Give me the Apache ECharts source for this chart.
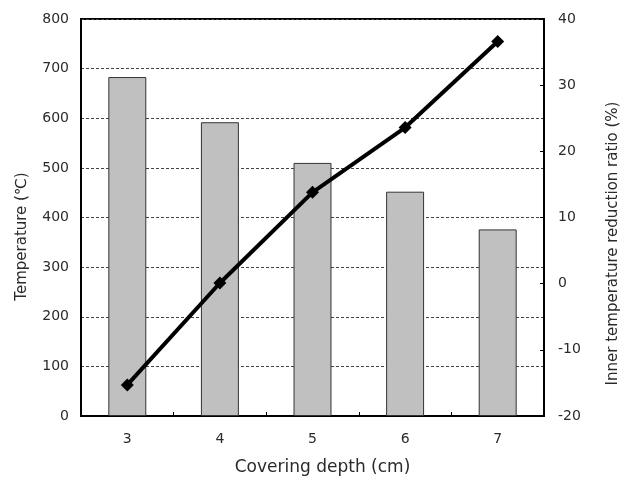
<!DOCTYPE html>
<html>
<head>
<meta charset="utf-8">
<script src="https://cdn.jsdelivr.net/npm/echarts@6/dist/echarts.min.js"></script>
<style>
  html, body { margin: 0; padding: 0; background: #fff; }
  #chart { width: 629px; height: 481px; }
</style>
</head>
<body>
<div id="chart"></div>
<script>
// Covering depth vs. surface temperature and inner temperature reduction ratio
const depths = ['3', '4', '5', '6', '7'];
const temperature = [683, 592, 510, 452, 376];
const reductionRatio = [-15.3, 0.1, 13.8, 23.6, 36.6];

const FONT = '"DejaVu Sans", sans-serif';
const TEXT = '#2a2a2a';

const chart = echarts.init(document.getElementById('chart'), null, { renderer: 'canvas' });

chart.setOption({
  animation: false,
  backgroundColor: '#fff',
  textStyle: { fontFamily: FONT, color: TEXT },
  grid: {
    left: 81, right: 81, top: 19, bottom: 59,
    show: true, borderColor: '#000', borderWidth: 2, backgroundColor: 'transparent'
  },
  xAxis: {
    type: 'category',
    data: depths,
    name: 'Covering depth (cm)',
    nameLocation: 'middle',
    nameGap: 43,
    nameTextStyle: { fontFamily: FONT, fontSize: 17, color: TEXT, padding: [0, 0, 0, 20] },
    axisLine: { show: true, lineStyle: { color: '#000', width: 2 } },
    axisTick: { show: true, inside: true, length: 4, alignWithLabel: false, lineStyle: { color: '#000' } },
    axisLabel: { fontFamily: FONT, fontSize: 14, color: TEXT, margin: 16 },
    splitLine: { show: false }
  },
  yAxis: [
    {
      type: 'value',
      min: 0, max: 800, interval: 100,
      name: 'Temperature (℃)',
      nameLocation: 'middle',
      nameGap: 51,
      nameTextStyle: { fontFamily: FONT, fontSize: 15, color: TEXT, padding: [0, 38, 0, 0] },
      axisLine: { show: true, lineStyle: { color: '#000', width: 2 } },
      axisTick: { show: false },
      axisLabel: { fontFamily: FONT, fontSize: 14, color: TEXT, margin: 12 },
      splitLine: { show: true, lineStyle: { color: '#444', type: [3, 2], width: 1 } }
    },
    {
      type: 'value',
      min: -20, max: 40, interval: 10,
      position: 'right',
      name: 'Inner temperature reduction ratio (%)',
      nameLocation: 'middle',
      nameGap: 62,
      nameRotate: 90,
      nameTextStyle: { fontFamily: FONT, fontSize: 15, color: TEXT, padding: [0, 52, 0, 0] },
      axisLine: { show: true, lineStyle: { color: '#000', width: 2 } },
      axisTick: { show: true, inside: true, length: 4, lineStyle: { color: '#000' } },
      axisLabel: { fontFamily: FONT, fontSize: 14, color: TEXT, margin: 14 },
      splitLine: { show: false }
    }
  ],
  series: [
    {
      name: 'Temperature',
      type: 'bar',
      yAxisIndex: 0,
      data: temperature,
      barWidth: '41%',
      itemStyle: { color: '#c0c0c0', borderColor: '#333', borderWidth: 1 }
    },
    {
      name: 'Inner temperature reduction ratio',
      type: 'line',
      yAxisIndex: 1,
      data: reductionRatio,
      symbol: 'diamond',
      symbolSize: 13,
      lineStyle: { color: '#000', width: 4 },
      itemStyle: { color: '#000' },
      z: 5
    }
  ]
});
</script>
</body>
</html>
